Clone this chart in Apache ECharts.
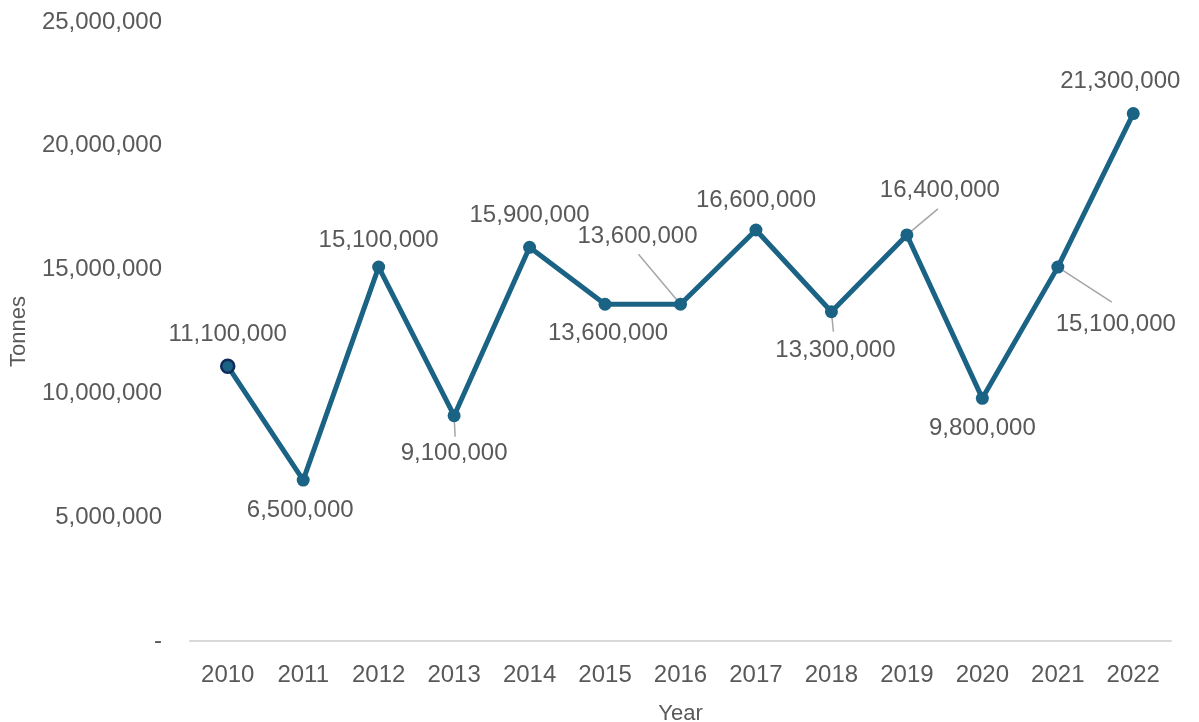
<!DOCTYPE html>
<html>
<head>
<meta charset="utf-8">
<script src="https://cdn.jsdelivr.net/npm/echarts@6/dist/echarts.min.js"></script>
<style>
html,body{margin:0;padding:0;background:#fff;}
#chart{width:1199px;height:722px;}
</style>
</head>
<body>
<div id="chart"></div>
<script>
const years = ['2010','2011','2012','2013','2014','2015','2016','2017','2018','2019','2020','2021','2022'];
const tonnes = [11100000, 6500000, 15100000, 9100000, 15900000, 13600000, 13600000, 16600000, 13300000, 16400000, 9800000, 15100000, 21300000];
const yTicks = [0, 5000000, 10000000, 15000000, 20000000, 25000000];

// label placement (pixel offsets from point) and leader line ends (pixel offsets from point)
const labelOffsets = [[0,-32],[-3,30],[0,-27],[0,38],[0,-32],[3,29],[-43,-68],[0,-30],[4,39],[33,-45],[0,30],[58,57],[-13,-32]];
const leaderEnds = [null,null,null,[1,21],null,null,[-42,-50],null,[2,20],[31,-26],null,[54,35],null];

const fmt = v => v === 0 ? '-' : v.toLocaleString('en-US');
const FONT = 'Liberation Sans';
const TXT = '#595959';
const LINE = '#1a6385';

const seriesData = tonnes.map((v, i) => {
  const item = { value: v };
  if (i === 0) item.itemStyle = { borderColor: '#0f2b5b', borderWidth: 2.5 };
  return item;
});
const leaderData = [];
tonnes.forEach((v, i) => { if (leaderEnds[i]) leaderData.push([i, v, leaderEnds[i][0], leaderEnds[i][1]]); });

const chart = echarts.init(document.getElementById('chart'));
chart.setOption({
  animation: false,
  backgroundColor: '#fff',
  grid: { left: 190, right: 28, top: 22, bottom: 81, outerBoundsMode: 'none', containLabel: false },
  xAxis: {
    type: 'category',
    data: years,
    boundaryGap: true,
    name: 'Year',
    nameLocation: 'middle',
    nameGap: 62,
    nameTextStyle: { color: TXT, fontFamily: FONT, fontSize: 22 },
    axisLine: { lineStyle: { color: '#d9d9d9', width: 2 } },
    axisTick: { show: false },
    axisLabel: { color: TXT, fontFamily: FONT, fontSize: 24, margin: 22 }
  },
  yAxis: {
    type: 'value',
    min: 0,
    max: 25000000,
    interval: 5000000,
    name: 'Tonnes',
    nameLocation: 'middle',
    nameGap: 160,
    nameRotate: 90,
    nameTextStyle: { color: TXT, fontFamily: FONT, fontSize: 22 },
    axisLine: { show: false },
    axisTick: { show: false },
    splitLine: { show: false },
    axisLabel: {
      color: TXT, fontFamily: FONT, fontSize: 24, margin: 28,
      formatter: v => fmt(v),
      customValues: yTicks
    }
  },
  series: [{
    type: 'custom',
    z: 1,
    silent: true,
    data: leaderData,
    renderItem: function (params, api) {
      const p = api.coord([api.value(0), api.value(1)]);
      return {
        type: 'line',
        shape: { x1: p[0], y1: p[1], x2: p[0] + api.value(2), y2: p[1] + api.value(3) },
        style: { stroke: '#a6a6a6', lineWidth: 1.5 }
      };
    }
  }, {
    type: 'line',
    z: 2,
    data: seriesData,
    symbol: 'circle',
    symbolSize: 13,
    lineStyle: { color: LINE, width: 5 },
    itemStyle: { color: LINE },
    label: {
      show: true,
      position: 'inside',
      color: TXT,
      fontFamily: FONT,
      fontSize: 24,
      formatter: p => fmt(p.value)
    },
    labelLayout: function (params) {
      const off = labelOffsets[params.dataIndex];
      return { dx: off[0], dy: off[1] };
    }
  }]
});
</script>
</body>
</html>
